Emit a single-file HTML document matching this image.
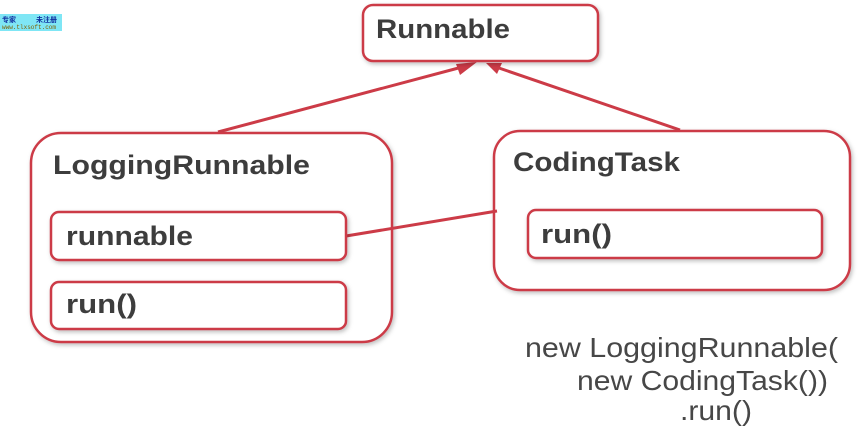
<!DOCTYPE html>
<html><head><meta charset="utf-8"><style>
html,body{margin:0;padding:0;background:#fff;width:868px;height:432px;overflow:hidden}
</style></head><body>
<svg width="868" height="432" xmlns="http://www.w3.org/2000/svg">
<defs>
<filter id="sh" x="-10%" y="-10%" width="130%" height="130%"><feDropShadow dx="1.5" dy="2" stdDeviation="2" flood-color="#000" flood-opacity="0.25"/></filter>
</defs>
<rect x="0" y="14" width="62" height="17" fill="#7fe6f5"/>
<text x="2" y="22" font-family="'Liberation Sans','Noto Sans CJK SC',sans-serif" font-size="7" fill="#1030a0" font-weight="bold">专家</text>
<text x="36" y="22" font-family="'Liberation Sans','Noto Sans CJK SC',sans-serif" font-size="7" fill="#1030a0" font-weight="bold">未注册</text>
<text x="2" y="29" font-family="'Liberation Mono',monospace" font-size="6" fill="#806000">www.tlxsoft.com</text>

<g stroke="#cc3b47" stroke-width="3" fill="none">
<line x1="218" y1="132" x2="466" y2="66"/>
<line x1="680" y1="130" x2="496" y2="67"/>
</g>
<polygon points="477,62 460,75 456,64" fill="#cc3b47"/>
<polygon points="486,63 502,63 497,74" fill="#cc3b47"/>

<g fill="#fff" stroke="#cc3b47" stroke-width="2.5" filter="url(#sh)">
<rect x="363" y="5" width="235" height="56" rx="10"/>
<rect x="31" y="133" width="361" height="209" rx="30"/>
<rect x="494" y="131" width="356" height="159" rx="26"/>
</g>
<line x1="340" y1="237" x2="497" y2="211" stroke="#cc3b47" stroke-width="3"/>
<g fill="#fff" stroke="#cc3b47" stroke-width="2.5" filter="url(#sh)">
<rect x="51" y="212" width="295" height="48" rx="8"/>
<rect x="51" y="282" width="295" height="47" rx="8"/>
<rect x="528" y="210" width="294" height="48" rx="8"/>
</g>

<g font-family="'Liberation Sans',sans-serif" font-weight="bold" font-size="27" fill="#3d3d3d">
<text x="376" y="38" textLength="134" lengthAdjust="spacingAndGlyphs">Runnable</text>
<text x="53" y="174" textLength="257" lengthAdjust="spacingAndGlyphs">LoggingRunnable</text>
<text x="513" y="171" textLength="167" lengthAdjust="spacingAndGlyphs">CodingTask</text>
<text x="66" y="245" textLength="127" lengthAdjust="spacingAndGlyphs">runnable</text>
<text x="66" y="313" textLength="71" lengthAdjust="spacingAndGlyphs">run()</text>
<text x="541" y="243" textLength="71" lengthAdjust="spacingAndGlyphs">run()</text>
</g>
<g font-family="'Liberation Sans',sans-serif" font-size="28" fill="#474747">
<text x="525" y="357" textLength="313" lengthAdjust="spacingAndGlyphs">new LoggingRunnable(</text>
<text x="577" y="390" textLength="251" lengthAdjust="spacingAndGlyphs">new CodingTask())</text>
<text x="680" y="420" textLength="72" lengthAdjust="spacingAndGlyphs">.run()</text>
</g>
</svg>
</body></html>
